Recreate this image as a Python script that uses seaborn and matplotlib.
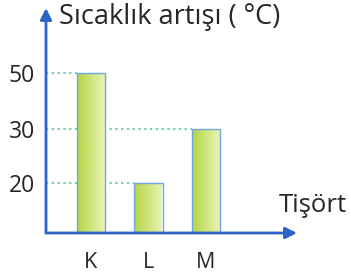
import numpy as np
import matplotlib
matplotlib.use("Agg")
import matplotlib.pyplot as plt
import seaborn as sns

# data
tshirts = ["K", "L", "M"]
temp_rise = [50, 20, 30]
y_ticks = [20, 30, 50]
y_title = "Sıcaklık artışı ( °C)"
x_title = "Tişört"

blue = "#2d63c4"
text_col = "#262626"
grid_col = "#74cbbd"

sns.set_theme(style="white")
plt.rcParams["font.family"] = ["Open Sans", "DejaVu Sans"]

fig = plt.figure(figsize=(3.51, 2.80), dpi=100)
ax = fig.add_axes([46 / 351, 47 / 280, 251 / 351, 225 / 280])

# schematic (non linear) value axis like the original drawing
knots_v = [0, 20, 30, 50, 80]
knots_p = [0, 50, 104, 160, 244]
fwd = lambda v: np.interp(v, knots_v, knots_p)
inv = lambda p: np.interp(p, knots_p, knots_v)
ax.set_yscale("function", functions=(fwd, inv))

sns.barplot(x=tshirts, y=temp_rise, ax=ax, width=0.49,
            color="#cfe37a", edgecolor="#6fa8dc", linewidth=1.0)

ax.set_xlim(-0.78, 3.58)
ax.set_ylim(0, 73.2)

# gradient fill inside the bars
grad = np.linspace(0, 1, 64).reshape(1, -1)
cmap = matplotlib.colors.LinearSegmentedColormap.from_list("g", ["#b5d543", "#ebf4b8"])
for p in ax.patches:
    x0, w, h = p.get_x(), p.get_width(), p.get_height()
    im = ax.imshow(grad, extent=[x0, x0 + w, 0, h], aspect="auto", cmap=cmap,
                   zorder=p.get_zorder() + 0.1, interpolation="bicubic")
    im.set_clip_path(p)
    p.set_facecolor("none")
    p.set_zorder(p.get_zorder() + 0.2)

# dotted guides from axis to the bar
for i, v in enumerate(temp_rise):
    ax.plot([-0.78, i - 0.245], [v, v], ls=(0, (1, 1.6)), color=grid_col, lw=1.6, zorder=1)

for s in ax.spines.values():
    s.set_visible(False)

arrow = dict(arrowstyle="-|>", color=blue, lw=2, mutation_scale=17, shrinkA=0, shrinkB=0)
ax.annotate("", xy=(0, 1), xytext=(0, 0), xycoords="axes fraction", arrowprops=arrow, annotation_clip=False)
ax.annotate("", xy=(1, 0), xytext=(0, 0), xycoords="axes fraction", arrowprops=arrow, annotation_clip=False)

ax.set_yticks(y_ticks)
ax.set_yticklabels([str(t) for t in y_ticks])
ax.tick_params(axis="y", length=0, pad=8, labelsize=16.5, labelcolor=text_col)
ax.tick_params(axis="x", length=0, pad=14, labelsize=15.5, labelcolor=text_col)
ax.set_xlabel("")
ax.set_ylabel("")

fig.text(59 / 351, 1 - 17 / 280, y_title, ha="left", va="center", fontsize=19.5, color=text_col)
fig.text(347 / 351, 1 - 205 / 280, x_title, ha="right", va="center", fontsize=18.5, color=text_col)

fig.savefig("out.png", dpi=100)
